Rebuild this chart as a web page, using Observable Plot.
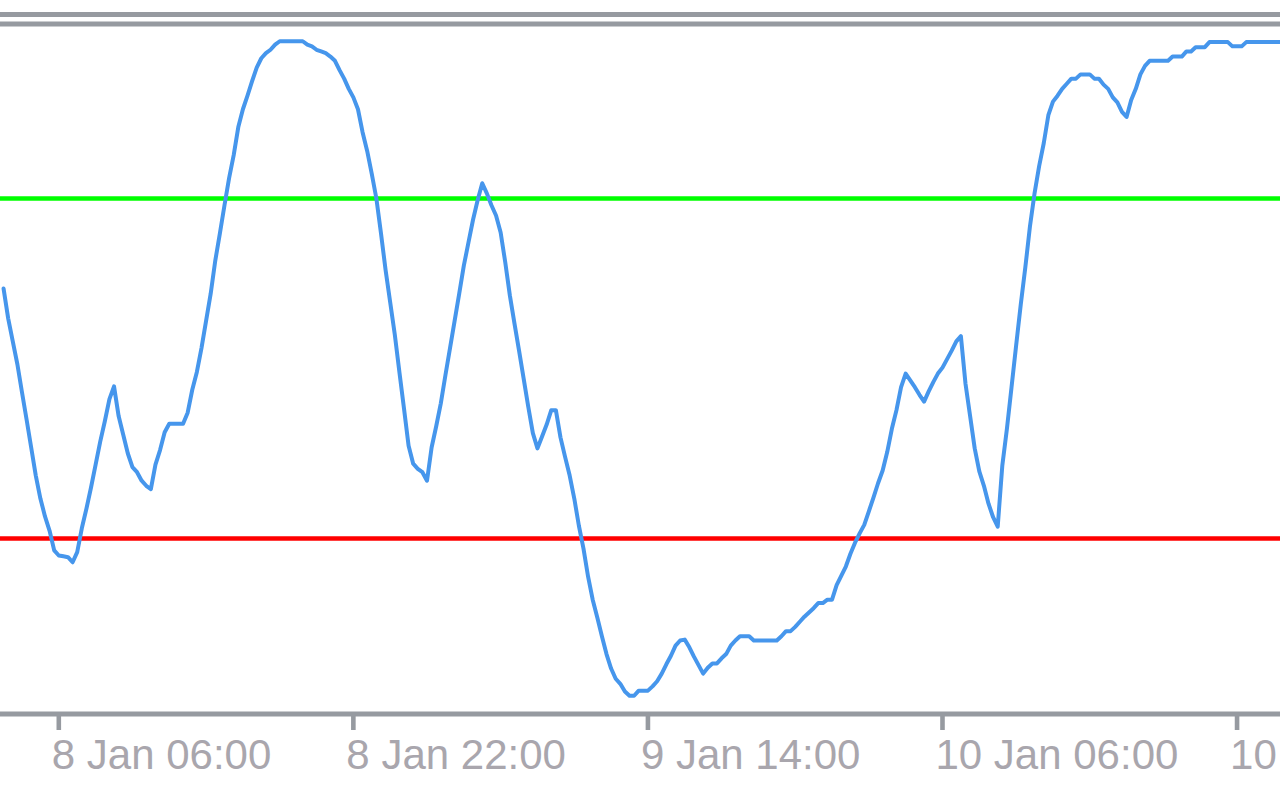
<!DOCTYPE html>
<html>
<head>
<meta charset="utf-8">
<script src="https://cdn.jsdelivr.net/npm/d3@7"></script>
<script src="https://cdn.jsdelivr.net/npm/@observablehq/plot@0.6"></script>
<style>
  html, body { margin: 0; padding: 0; background: #ffffff; overflow: hidden; width: 1280px; height: 800px; }
  #wrap { margin-top: 12px; border-top: 5px solid #969aa0; width: 1280px; }
  #wrap svg { display: block; overflow: hidden; }
</style>
</head>
<body>
<div id="wrap"></div>
<script>
// 15-minute oscillator series (first bar 8 Jan 03:00)
const startTime = "2024-01-08T03:00:00Z";
const barMinutes = 15;
const oscValues = [
  59.4, 55.9, 53.2, 50.5, 47.2, 44.0, 40.7, 37.4, 34.7, 32.6, 30.9, 28.6,
  28.0, 27.9, 27.8, 27.2, 28.4, 31.2, 33.5, 36.0, 38.7, 41.4,
  43.8, 46.4, 47.9, 44.4, 42.2, 40.0, 38.4, 37.8, 36.8, 36.2,
  35.8, 38.7, 40.4, 42.5, 43.5, 43.5, 43.5, 43.5, 44.8, 47.5,
  49.6, 52.4, 55.6, 58.8, 62.7, 65.9, 69.2, 72.4, 75.1, 78.4,
  80.5, 82.1, 83.8, 85.4, 86.5, 87.1, 87.5, 88.1, 88.5, 88.5,
  88.5, 88.5, 88.5, 88.5, 88.1, 87.9, 87.5, 87.3, 87.1, 86.7,
  86.2, 85.1, 84.1, 82.9, 81.9, 80.5, 77.8, 75.6, 72.9, 70.0,
  65.9, 61.6, 57.8, 54.0, 49.6, 45.3, 40.9, 38.8, 38.2, 37.8,
  36.8, 40.7, 43.2, 45.9, 49.2, 52.4, 55.6, 58.8, 62.1, 64.8,
  67.5, 69.8, 71.8, 70.6, 69.2, 68.0, 66.0, 62.5, 58.6, 55.3,
  52.1, 48.8, 45.5, 42.4, 40.6, 42.0, 43.4, 45.1, 45.1, 41.9,
  39.6, 37.4, 34.7, 31.5, 28.8, 25.5, 22.8, 20.7, 18.5, 16.4,
  14.7, 13.5, 12.9, 12.0, 11.5, 11.5, 12.1, 12.1, 12.1, 12.6,
  13.2, 14.1, 15.2, 16.2, 17.4, 18.0, 18.1, 17.2, 16.1, 15.1,
  14.1, 14.8, 15.3, 15.3, 15.9, 16.4, 17.4, 18.0, 18.5, 18.5,
  18.5, 18.0, 18.0, 18.0, 18.0, 18.0, 18.0, 18.5, 19.1, 19.1,
  19.6, 20.2, 20.8, 21.3, 21.8, 22.4, 22.4, 22.8, 22.8, 24.5,
  25.6, 26.7, 28.2, 29.5, 30.6, 31.6, 33.2, 34.8, 36.5, 38.0,
  40.2, 42.9, 45.1, 47.8, 49.4, 48.6, 47.8, 46.9, 46.1, 47.3,
  48.4, 49.4, 50.1, 51.1, 52.1, 53.2, 53.8, 48.2, 44.4, 40.6,
  37.9, 36.2, 34.1, 32.5, 31.4, 38.6, 42.9, 47.8, 52.7, 57.5,
  61.9, 66.7, 70.6, 73.8, 76.5, 79.8, 81.4, 82.1, 82.9, 83.5,
  84.1, 84.1, 84.6, 84.6, 84.6, 84.1, 84.1, 83.4, 82.9, 81.9,
  81.3, 80.2, 79.6, 81.6, 82.9, 84.6, 85.6, 86.2, 86.2, 86.2,
  86.2, 86.2, 86.7, 86.7, 86.7, 87.3, 87.3, 87.8, 87.8, 87.8,
  88.4, 88.4, 88.4, 88.4, 88.4, 87.9, 87.9, 87.9, 88.4, 88.4,
  88.4, 88.4, 88.4, 88.4, 88.4, 88.4, 88.4
];
const upperLevel = 70;
const lowerLevel = 30;
const yRange = [9.35, 90.53];
const xRange = ["2024-01-08T02:50:00Z", "2024-01-11T00:21:36Z"];
const tickTimes = ["2024-01-08T06:00:00Z", "2024-01-08T22:00:00Z", "2024-01-09T14:00:00Z", "2024-01-10T06:00:00Z", "2024-01-10T22:00:00Z"];
const tickLabels = ["8 Jan 06:00", "8 Jan 22:00", "9 Jan 14:00", "10 Jan 06:00", "10 Jan 22:00"];

const t0 = Date.parse(startTime);
const series = oscValues.map((v, i) => ({time: new Date(t0 + i * barMinutes * 60000), value: v}));
const ticks = tickTimes.map((s, i) => ({time: new Date(s), label: tickLabels[i]}));

const gray = "#969aa0";
const chart = Plot.plot({
  width: 1280,
  height: 783,
  marginTop: 6.5,
  marginBottom: 86.5,
  marginLeft: 0,
  marginRight: 0,
  style: {background: "#ffffff", overflow: "hidden", fontFamily: "Liberation Sans, Arial, sans-serif"},
  x: {type: "utc", domain: xRange.map(s => new Date(s)), axis: null},
  y: {domain: yRange, axis: null},
  marks: [
    Plot.ruleY([lowerLevel], {stroke: "#ff0000", strokeWidth: 4.5}),
    Plot.ruleY([upperLevel], {stroke: "#00ff00", strokeWidth: 4.5}),
    Plot.lineY(series, {x: "time", y: "value", stroke: "#4696ec", strokeWidth: 4, clip: true}),
    Plot.ruleY([yRange[1]], {stroke: gray, strokeWidth: 5}),
    Plot.ruleY([yRange[0]], {stroke: gray, strokeWidth: 5}),
    Plot.axisX({
      ticks: ticks.map(d => d.time),
      tickSize: 16.5,
      tickFormat: () => "",
      stroke: gray,
      strokeWidth: 4.6
    }),
    Plot.text(ticks, {
      x: "time",
      text: "label",
      frameAnchor: "bottom",
      lineAnchor: "top",
      textAnchor: "start",
      dx: -7,
      dy: 25,
      fill: "#a9a6ad",
      fontSize: 42
    })
  ]
});
document.getElementById("wrap").appendChild(chart);
</script>
</body>
</html>
